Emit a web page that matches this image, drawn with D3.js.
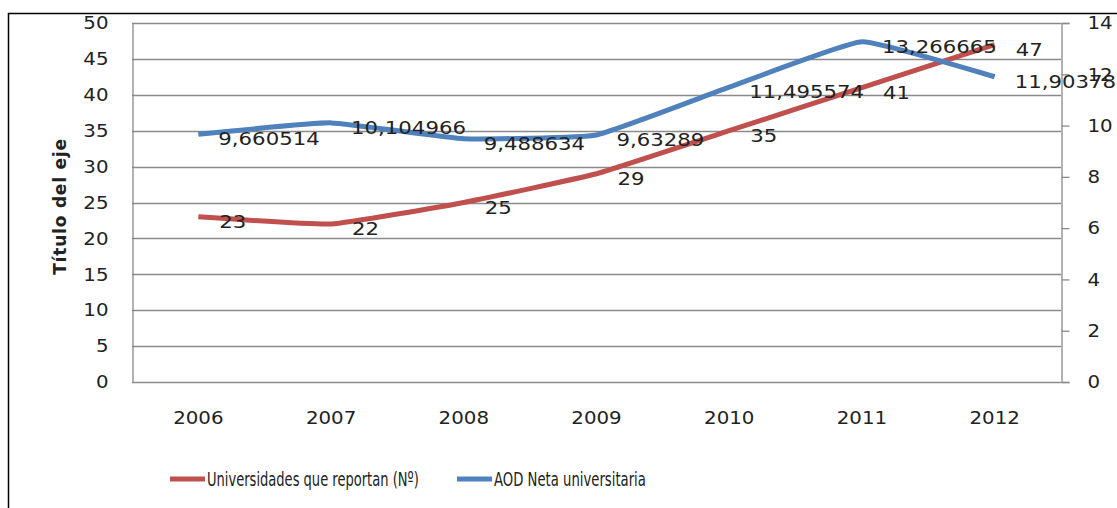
<!DOCTYPE html>
<html>
<head>
<meta charset="utf-8">
<script src="https://cdn.jsdelivr.net/npm/d3@7"></script>
<style>
  body { margin: 0; background: #fff; }
  svg text { font-family: "DejaVu Sans", sans-serif; fill: #222; }
</style>
</head>
<body>
<svg id="chart" width="1117" height="508"></svg>
<script>
const WIDTH = 1117;
const HEIGHT = 508;

const years = ['2006', '2007', '2008', '2009', '2010', '2011', '2012'];
const universidades = [23, 22, 25, 29, 35, 41, 47];
const aodNeta = [9.660514, 10.104966, 9.488634, 9.63289, 11.495574, 13.266665, 11.903784];
const leftTicks = [0, 5, 10, 15, 20, 25, 30, 35, 40, 45, 50];
const rightTicks = [0, 2, 4, 6, 8, 10, 12, 14];
const seriesNames = ['Universidades que reportan (Nº)', 'AOD Neta universitaria'];

const RED = '#C0504D';
const BLUE = '#4F81BD';
const PLOT = { left: 132, right: 1061, top: 23, bottom: 382 };
const formatComma = v => String(v).replace('.', ',');

// the original's font is wider than DejaVu, so widen glyphs a bit
function stretch(sel, factor) {
  sel.each(function () {
    const w = this.getComputedTextLength();
    d3.select(this)
      .attr('textLength', w * factor)
      .attr('lengthAdjust', 'spacingAndGlyphs');
  });
}

const svg = d3.select('#chart');

// outer frame (cropped on right/bottom like the original)
svg.append('rect')
  .attr('x', 8.5).attr('y', 13.5)
  .attr('width', WIDTH).attr('height', HEIGHT)
  .attr('fill', '#fff').attr('stroke', '#000').attr('stroke-width', 1.5);

const xScale = d3.scaleBand().domain(years).range([PLOT.left, PLOT.right]);
const yLeft = d3.scaleLinear().domain([0, 50]).range([PLOT.bottom, PLOT.top]);
const yRight = d3.scaleLinear().domain([0, 14]).range([PLOT.bottom, PLOT.top]);
const cx = d => xScale(d) + xScale.bandwidth() / 2;

// gridlines
svg.append('g')
  .selectAll('line')
  .data(leftTicks)
  .enter()
  .append('line')
  .attr('x1', PLOT.left).attr('x2', PLOT.right)
  .attr('y1', d => Math.round(yLeft(d)) + 0.5)
  .attr('y2', d => Math.round(yLeft(d)) + 0.5)
  .attr('stroke', '#8a8a8a').attr('stroke-width', 1.3);

// left axis
const leftAxis = svg.append('g')
  .attr('transform', `translate(${PLOT.left + 0.5},0)`)
  .call(d3.axisLeft(yLeft).tickValues(leftTicks).tickSize(0).tickPadding(24));
leftAxis.select('.domain').attr('stroke', '#8a8a8a').attr('stroke-width', 1.3);
leftAxis.selectAll('text')
  .style('font-size', '18px').attr('fill', '#222')
  .call(stretch, 1.1);

// right axis
const rightAxis = svg.append('g')
  .attr('transform', `translate(${PLOT.right + 0.5},0)`)
  .call(d3.axisRight(yRight).tickValues(rightTicks).tickSize(8).tickPadding(18));
rightAxis.select('.domain').attr('stroke', '#8a8a8a').attr('stroke-width', 1.3);
rightAxis.selectAll('.tick line').attr('stroke', '#8a8a8a').attr('stroke-width', 1.3);
rightAxis.selectAll('text')
  .style('font-size', '18px').attr('fill', '#222')
  .call(stretch, 1.1);

// bottom axis labels
const bottomAxis = svg.append('g')
  .attr('transform', `translate(0,${PLOT.bottom})`)
  .call(d3.axisBottom(xScale).tickSize(0).tickPadding(29));
bottomAxis.select('.domain').remove();
bottomAxis.selectAll('text')
  .style('font-size', '18px').attr('fill', '#222')
  .call(stretch, 1.1);

// y axis title
svg.append('text')
  .attr('transform', `translate(66,${(PLOT.top + PLOT.bottom) / 2 + 4}) rotate(-90)`)
  .attr('text-anchor', 'middle')
  .style('font-size', '17px')
  .style('font-weight', 'bold')
  .style('letter-spacing', '0.8px')
  .attr('fill', '#000')
  .text('Título del eje');

// lines (Excel-style light smoothing)
const redLine = d3.line()
  .x((d, i) => cx(years[i]))
  .y(d => yLeft(d))
  .curve(d3.curveCardinal.tension(0.65));
const blueLine = d3.line()
  .x((d, i) => cx(years[i]))
  .y(d => yRight(d))
  .curve(d3.curveCardinal.tension(0.65));

svg.append('path')
  .datum(universidades)
  .attr('d', redLine)
  .attr('fill', 'none').attr('stroke', RED)
  .attr('stroke-width', 5).attr('stroke-linejoin', 'round');

svg.append('path')
  .datum(aodNeta)
  .attr('d', blueLine)
  .attr('fill', 'none').attr('stroke', BLUE)
  .attr('stroke-width', 5).attr('stroke-linejoin', 'round');

// data labels
svg.append('g')
  .selectAll('text')
  .data(universidades)
  .enter()
  .append('text')
  .attr('x', (d, i) => cx(years[i]) + 21)
  .attr('y', d => yLeft(d) + 11)
  .style('font-size', '18px')
  .attr('fill', '#111')
  .text(d => d)
  .call(stretch, 1.18);

svg.append('g')
  .selectAll('text')
  .data(aodNeta)
  .enter()
  .append('text')
  .attr('x', (d, i) => cx(years[i]) + 20)
  .attr('y', d => yRight(d) + 11)
  .style('font-size', '18px')
  .attr('fill', '#111')
  .text(d => formatComma(d))
  .call(stretch, 1.18);

// legend: the original uses a condensed face, so squeeze horizontally
const legendItems = [
  { name: seriesNames[0], color: RED, x: 170, len: 212 },
  { name: seriesNames[1], color: BLUE, x: 457, len: 152 }
];
const legend = svg.append('g').attr('transform', 'translate(0,479)');
legend.selectAll('line')
  .data(legendItems)
  .enter()
  .append('line')
  .attr('x1', d => d.x).attr('x2', d => d.x + 35)
  .attr('y1', 0).attr('y2', 0)
  .attr('stroke', d => d.color).attr('stroke-width', 5);
legend.selectAll('text')
  .data(legendItems)
  .enter()
  .append('text')
  .style('font-size', '20px')
  .attr('fill', '#222')
  .text(d => d.name)
  .each(function (d) {
    const sx = d.len / this.getComputedTextLength();
    d3.select(this).attr('transform', `translate(${d.x + 37},7) scale(${sx},1)`);
  });
</script>
</body>
</html>
